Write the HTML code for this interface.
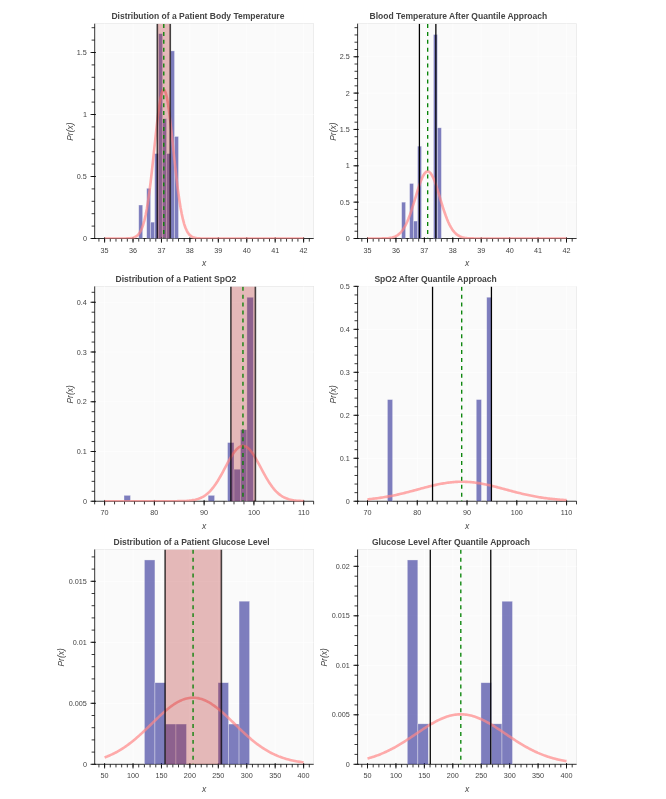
<!DOCTYPE html>
<html lang="en"><head><meta charset="utf-8"><title>Patient vitals distributions</title>
<style>html,body{margin:0;padding:0;background:#fff}body{width:666px;height:799px;overflow:hidden;font-family:"Liberation Sans",Arial,sans-serif}svg{display:block}</style>
</head><body>
<svg width="666" height="799" viewBox="0 0 666 799" font-family="'Liberation Sans', Arial, Helvetica, sans-serif">
<rect width="666" height="799" fill="#fff"/>
<clipPath id="c0"><rect x="94.7" y="23.7" width="219" height="214.95"/></clipPath>
<rect x="94.7" y="23.7" width="219" height="214.8" fill="#fafafa" stroke="#e5e5e5" stroke-width="0.66"/>
<path d="M104.6 23.7V238.5M133.03 23.7V238.5M161.46 23.7V238.5M189.89 23.7V238.5M218.32 23.7V238.5M246.75 23.7V238.5M275.18 23.7V238.5M303.61 23.7V238.5M94.7 176.5H313.7M94.7 114.5H313.7M94.7 52.5H313.7" stroke="#fff" stroke-width="0.66" fill="none"/>
<path d="M94.7 23.7V238.5M94.7 238.5H313.7M104.6 237.2V242.7M133.03 237.2V242.7M161.46 237.2V242.7M189.89 237.2V242.7M218.32 237.2V242.7M246.75 237.2V242.7M275.18 237.2V242.7M303.61 237.2V242.7M98.91 238.5V241.6M104.6 238.5V241.6M110.29 238.5V241.6M115.97 238.5V241.6M121.66 238.5V241.6M127.34 238.5V241.6M133.03 238.5V241.6M138.72 238.5V241.6M144.4 238.5V241.6M150.09 238.5V241.6M155.77 238.5V241.6M161.46 238.5V241.6M167.15 238.5V241.6M172.83 238.5V241.6M178.52 238.5V241.6M184.2 238.5V241.6M189.89 238.5V241.6M195.58 238.5V241.6M201.26 238.5V241.6M206.95 238.5V241.6M212.63 238.5V241.6M218.32 238.5V241.6M224.01 238.5V241.6M229.69 238.5V241.6M235.38 238.5V241.6M241.06 238.5V241.6M246.75 238.5V241.6M252.44 238.5V241.6M258.12 238.5V241.6M263.81 238.5V241.6M269.49 238.5V241.6M275.18 238.5V241.6M280.87 238.5V241.6M286.55 238.5V241.6M292.24 238.5V241.6M297.92 238.5V241.6M303.61 238.5V241.6M309.3 238.5V241.6M96 238.5H90.5M96 176.5H90.5M96 114.5H90.5M96 52.5H90.5M94.7 238.5H91.6M94.7 226.1H91.6M94.7 213.7H91.6M94.7 201.3H91.6M94.7 188.9H91.6M94.7 176.5H91.6M94.7 164.1H91.6M94.7 151.7H91.6M94.7 139.3H91.6M94.7 126.9H91.6M94.7 114.5H91.6M94.7 102.1H91.6M94.7 89.7H91.6M94.7 77.3H91.6M94.7 64.9H91.6M94.7 52.5H91.6M94.7 40.1H91.6M94.7 27.7H91.6" stroke="#000" stroke-width="0.78" fill="none"/>
<g clip-path="url(#c0)">
<rect x="138.72" y="205.02" width="3.98" height="33.48" fill="#000080" fill-opacity="0.5" stroke="#fff" stroke-opacity="0.5" stroke-width="0.66"/>
<rect x="146.68" y="188.28" width="3.98" height="50.22" fill="#000080" fill-opacity="0.5" stroke="#fff" stroke-opacity="0.5" stroke-width="0.66"/>
<rect x="150.66" y="222.13" width="3.98" height="16.37" fill="#000080" fill-opacity="0.5" stroke="#fff" stroke-opacity="0.5" stroke-width="0.66"/>
<rect x="154.64" y="153.56" width="3.98" height="84.94" fill="#000080" fill-opacity="0.5" stroke="#fff" stroke-opacity="0.5" stroke-width="0.66"/>
<rect x="158.62" y="33.65" width="3.98" height="204.85" fill="#000080" fill-opacity="0.5" stroke="#fff" stroke-opacity="0.5" stroke-width="0.66"/>
<rect x="162.6" y="118.72" width="3.98" height="119.78" fill="#000080" fill-opacity="0.5" stroke="#fff" stroke-opacity="0.5" stroke-width="0.66"/>
<rect x="166.58" y="153.56" width="3.98" height="84.94" fill="#000080" fill-opacity="0.5" stroke="#fff" stroke-opacity="0.5" stroke-width="0.66"/>
<rect x="170.56" y="50.89" width="3.98" height="187.61" fill="#000080" fill-opacity="0.5" stroke="#fff" stroke-opacity="0.5" stroke-width="0.66"/>
<rect x="174.54" y="136.45" width="3.98" height="102.05" fill="#000080" fill-opacity="0.5" stroke="#fff" stroke-opacity="0.5" stroke-width="0.66"/>
<polyline points="104.6,238.5 105.84,238.5 107.09,238.5 108.33,238.5 109.58,238.5 110.82,238.5 112.06,238.5 113.31,238.5 114.55,238.5 115.79,238.5 117.04,238.5 118.28,238.5 119.53,238.5 120.77,238.5 122.01,238.49 123.26,238.48 124.5,238.47 125.74,238.45 126.99,238.42 128.23,238.37 129.48,238.3 130.72,238.17 131.96,237.99 133.21,237.71 134.45,237.3 135.7,236.7 136.94,235.87 138.18,234.71 139.43,233.13 140.67,231.03 141.91,228.28 143.16,224.76 144.4,220.35 145.65,214.93 146.89,208.41 148.13,200.76 149.38,191.98 150.62,182.13 151.86,171.37 153.11,159.94 154.35,148.13 155.6,136.33 156.84,124.97 158.08,114.51 159.33,105.42 160.57,98.11 161.82,92.94 163.06,90.17 164.3,89.94 165.55,92.27 166.79,97.03 168.03,103.98 169.28,112.79 170.52,123.04 171.77,134.27 173.01,146.02 174.25,157.86 175.5,169.39 176.74,180.29 177.98,190.31 179.23,199.29 180.47,207.14 181.72,213.85 182.96,219.46 184.2,224.05 185.45,227.71 186.69,230.59 187.94,232.8 189.18,234.46 190.42,235.69 191.67,236.58 192.91,237.21 194.15,237.64 195.4,237.94 196.64,238.15 197.89,238.28 199.13,238.36 200.37,238.42 201.62,238.45 202.86,238.47 204.11,238.48 205.35,238.49 206.59,238.49 207.84,238.5 209.08,238.5 210.32,238.5 211.57,238.5 212.81,238.5 214.06,238.5 215.3,238.5 216.54,238.5 217.79,238.5 219.03,238.5 220.27,238.5 221.52,238.5 222.76,238.5 224.01,238.5 225.25,238.5 226.49,238.5 227.74,238.5 228.98,238.5 230.23,238.5 231.47,238.5 232.71,238.5 233.96,238.5 235.2,238.5 236.44,238.5 237.69,238.5 238.93,238.5 240.18,238.5 241.42,238.5 242.66,238.5 243.91,238.5 245.15,238.5 246.39,238.5 247.64,238.5 248.88,238.5 250.13,238.5 251.37,238.5 252.61,238.5 253.86,238.5 255.1,238.5 256.35,238.5 257.59,238.5 258.83,238.5 260.08,238.5 261.32,238.5 262.56,238.5 263.81,238.5 265.05,238.5 266.3,238.5 267.54,238.5 268.78,238.5 270.03,238.5 271.27,238.5 272.51,238.5 273.76,238.5 275,238.5 276.25,238.5 277.49,238.5 278.73,238.5 279.98,238.5 281.22,238.5 282.47,238.5 283.71,238.5 284.95,238.5 286.2,238.5 287.44,238.5 288.68,238.5 289.93,238.5 291.17,238.5 292.42,238.5 293.66,238.5 294.9,238.5 296.15,238.5 297.39,238.5 298.63,238.5 299.88,238.5 301.12,238.5 302.37,238.5 303.61,238.5" fill="none" stroke="#ff8888" stroke-opacity="0.7" stroke-width="2.62" stroke-linejoin="round"/>
<rect x="157.31" y="23.7" width="12.96" height="214.8" fill="#b22222" fill-opacity="0.3"/>
<path d="M157.31 23.7V238.5M170.27 23.7V238.5" stroke="#000" stroke-opacity="0.72" stroke-width="1.6" fill="none"/>
<path d="M163.79 23.7V238.5" stroke="#008000" stroke-width="1.31" stroke-dasharray="3.96 3.96" stroke-dashoffset="-0.3" fill="none"/>
</g>
<g font-size="7.22" fill="#444"><text x="104.6" y="252.6" text-anchor="middle">35</text><text x="133.03" y="252.6" text-anchor="middle">36</text><text x="161.46" y="252.6" text-anchor="middle">37</text><text x="189.89" y="252.6" text-anchor="middle">38</text><text x="218.32" y="252.6" text-anchor="middle">39</text><text x="246.75" y="252.6" text-anchor="middle">40</text><text x="275.18" y="252.6" text-anchor="middle">41</text><text x="303.61" y="252.6" text-anchor="middle">42</text><text x="86.9" y="241.1" text-anchor="end">0</text><text x="86.9" y="179.1" text-anchor="end">0.5</text><text x="86.9" y="117.1" text-anchor="end">1</text><text x="86.9" y="55.1" text-anchor="end">1.5</text></g>
<text x="204.2" y="266.1" text-anchor="middle" font-size="8.53" font-style="italic" fill="#444">x</text>
<text transform="translate(72.67 131.6) rotate(-90)" text-anchor="middle" font-size="8.53" font-style="italic" fill="#444">Pr(x)</text>
<text x="111.4" y="19.1" font-size="8.53" font-weight="bold" fill="#444">Distribution of a Patient Body Temperature</text>
<clipPath id="c1"><rect x="357.6" y="23.7" width="219" height="214.95"/></clipPath>
<rect x="357.6" y="23.7" width="219" height="214.8" fill="#fafafa" stroke="#e5e5e5" stroke-width="0.66"/>
<path d="M367.5 23.7V238.5M395.93 23.7V238.5M424.36 23.7V238.5M452.79 23.7V238.5M481.22 23.7V238.5M509.65 23.7V238.5M538.08 23.7V238.5M566.51 23.7V238.5M357.6 202.15H576.6M357.6 165.8H576.6M357.6 129.45H576.6M357.6 93.1H576.6M357.6 56.75H576.6" stroke="#fff" stroke-width="0.66" fill="none"/>
<path d="M357.6 23.7V238.5M357.6 238.5H576.6M367.5 237.2V242.7M395.93 237.2V242.7M424.36 237.2V242.7M452.79 237.2V242.7M481.22 237.2V242.7M509.65 237.2V242.7M538.08 237.2V242.7M566.51 237.2V242.7M361.81 238.5V241.6M367.5 238.5V241.6M373.19 238.5V241.6M378.87 238.5V241.6M384.56 238.5V241.6M390.24 238.5V241.6M395.93 238.5V241.6M401.62 238.5V241.6M407.3 238.5V241.6M412.99 238.5V241.6M418.67 238.5V241.6M424.36 238.5V241.6M430.05 238.5V241.6M435.73 238.5V241.6M441.42 238.5V241.6M447.1 238.5V241.6M452.79 238.5V241.6M458.48 238.5V241.6M464.16 238.5V241.6M469.85 238.5V241.6M475.53 238.5V241.6M481.22 238.5V241.6M486.91 238.5V241.6M492.59 238.5V241.6M498.28 238.5V241.6M503.96 238.5V241.6M509.65 238.5V241.6M515.34 238.5V241.6M521.02 238.5V241.6M526.71 238.5V241.6M532.39 238.5V241.6M538.08 238.5V241.6M543.77 238.5V241.6M549.45 238.5V241.6M555.14 238.5V241.6M560.82 238.5V241.6M566.51 238.5V241.6M572.2 238.5V241.6M358.9 238.5H353.4M358.9 202.15H353.4M358.9 165.8H353.4M358.9 129.45H353.4M358.9 93.1H353.4M358.9 56.75H353.4M357.6 238.5H354.5M357.6 231.23H354.5M357.6 223.96H354.5M357.6 216.69H354.5M357.6 209.42H354.5M357.6 202.15H354.5M357.6 194.88H354.5M357.6 187.61H354.5M357.6 180.34H354.5M357.6 173.07H354.5M357.6 165.8H354.5M357.6 158.53H354.5M357.6 151.26H354.5M357.6 143.99H354.5M357.6 136.72H354.5M357.6 129.45H354.5M357.6 122.18H354.5M357.6 114.91H354.5M357.6 107.64H354.5M357.6 100.37H354.5M357.6 93.1H354.5M357.6 85.83H354.5M357.6 78.56H354.5M357.6 71.29H354.5M357.6 64.02H354.5M357.6 56.75H354.5M357.6 49.48H354.5M357.6 42.21H354.5M357.6 34.94H354.5M357.6 27.67H354.5" stroke="#000" stroke-width="0.78" fill="none"/>
<g clip-path="url(#c1)">
<rect x="401.62" y="202.15" width="3.98" height="36.35" fill="#000080" fill-opacity="0.5" stroke="#fff" stroke-opacity="0.5" stroke-width="0.66"/>
<rect x="409.58" y="183.47" width="3.98" height="55.03" fill="#000080" fill-opacity="0.5" stroke="#fff" stroke-opacity="0.5" stroke-width="0.66"/>
<rect x="413.56" y="221.05" width="3.98" height="17.45" fill="#000080" fill-opacity="0.5" stroke="#fff" stroke-opacity="0.5" stroke-width="0.66"/>
<rect x="417.54" y="146.17" width="3.98" height="92.33" fill="#000080" fill-opacity="0.5" stroke="#fff" stroke-opacity="0.5" stroke-width="0.66"/>
<rect x="433.46" y="34.5" width="3.98" height="204" fill="#000080" fill-opacity="0.5" stroke="#fff" stroke-opacity="0.5" stroke-width="0.66"/>
<rect x="437.44" y="127.78" width="3.98" height="110.72" fill="#000080" fill-opacity="0.5" stroke="#fff" stroke-opacity="0.5" stroke-width="0.66"/>
<polyline points="367.5,238.5 368.74,238.5 369.99,238.5 371.23,238.5 372.48,238.5 373.72,238.5 374.96,238.49 376.21,238.49 377.45,238.48 378.69,238.48 379.94,238.46 381.18,238.45 382.43,238.42 383.67,238.39 384.91,238.34 386.16,238.28 387.4,238.19 388.64,238.07 389.89,237.91 391.13,237.7 392.38,237.42 393.62,237.07 394.86,236.61 396.11,236.04 397.35,235.32 398.6,234.44 399.84,233.36 401.08,232.07 402.33,230.54 403.57,228.73 404.81,226.65 406.06,224.26 407.3,221.56 408.55,218.57 409.79,215.28 411.03,211.72 412.28,207.94 413.52,203.98 414.76,199.9 416.01,195.78 417.25,191.7 418.5,187.76 419.74,184.04 420.98,180.65 422.23,177.68 423.47,175.2 424.72,173.3 425.96,172.02 427.2,171.42 428.45,171.49 429.69,172.25 430.93,173.67 432.18,175.71 433.42,178.3 434.67,181.37 435.91,184.84 437.15,188.62 438.4,192.6 439.64,196.7 440.88,200.81 442.13,204.87 443.37,208.8 444.62,212.54 445.86,216.04 447.1,219.26 448.35,222.19 449.59,224.82 450.84,227.14 452.08,229.16 453.32,230.9 454.57,232.38 455.81,233.62 457.05,234.65 458.3,235.49 459.54,236.18 460.79,236.72 462.03,237.15 463.27,237.49 464.52,237.75 465.76,237.95 467,238.1 468.25,238.21 469.49,238.3 470.74,238.36 471.98,238.4 473.22,238.43 474.47,238.45 475.71,238.47 476.96,238.48 478.2,238.49 479.44,238.49 480.69,238.49 481.93,238.5 483.17,238.5 484.42,238.5 485.66,238.5 486.91,238.5 488.15,238.5 489.39,238.5 490.64,238.5 491.88,238.5 493.13,238.5 494.37,238.5 495.61,238.5 496.86,238.5 498.1,238.5 499.34,238.5 500.59,238.5 501.83,238.5 503.08,238.5 504.32,238.5 505.56,238.5 506.81,238.5 508.05,238.5 509.29,238.5 510.54,238.5 511.78,238.5 513.03,238.5 514.27,238.5 515.51,238.5 516.76,238.5 518,238.5 519.25,238.5 520.49,238.5 521.73,238.5 522.98,238.5 524.22,238.5 525.46,238.5 526.71,238.5 527.95,238.5 529.2,238.5 530.44,238.5 531.68,238.5 532.93,238.5 534.17,238.5 535.41,238.5 536.66,238.5 537.9,238.5 539.15,238.5 540.39,238.5 541.63,238.5 542.88,238.5 544.12,238.5 545.37,238.5 546.61,238.5 547.85,238.5 549.1,238.5 550.34,238.5 551.58,238.5 552.83,238.5 554.07,238.5 555.32,238.5 556.56,238.5 557.8,238.5 559.05,238.5 560.29,238.5 561.53,238.5 562.78,238.5 564.02,238.5 565.27,238.5 566.51,238.5" fill="none" stroke="#ff8888" stroke-opacity="0.7" stroke-width="2.62" stroke-linejoin="round"/>
<path d="M419.41 23.7V238.5M435.87 23.7V238.5" stroke="#000" stroke-width="1.28" fill="none"/>
<path d="M427.69 23.7V238.5" stroke="#008000" stroke-width="1.31" stroke-dasharray="3.96 3.96" stroke-dashoffset="-0.3" fill="none"/>
</g>
<g font-size="7.22" fill="#444"><text x="367.5" y="252.6" text-anchor="middle">35</text><text x="395.93" y="252.6" text-anchor="middle">36</text><text x="424.36" y="252.6" text-anchor="middle">37</text><text x="452.79" y="252.6" text-anchor="middle">38</text><text x="481.22" y="252.6" text-anchor="middle">39</text><text x="509.65" y="252.6" text-anchor="middle">40</text><text x="538.08" y="252.6" text-anchor="middle">41</text><text x="566.51" y="252.6" text-anchor="middle">42</text><text x="349.8" y="241.1" text-anchor="end">0</text><text x="349.8" y="204.75" text-anchor="end">0.5</text><text x="349.8" y="168.4" text-anchor="end">1</text><text x="349.8" y="132.05" text-anchor="end">1.5</text><text x="349.8" y="95.7" text-anchor="end">2</text><text x="349.8" y="59.35" text-anchor="end">2.5</text></g>
<text x="467.1" y="266.1" text-anchor="middle" font-size="8.53" font-style="italic" fill="#444">x</text>
<text transform="translate(335.57 131.6) rotate(-90)" text-anchor="middle" font-size="8.53" font-style="italic" fill="#444">Pr(x)</text>
<text x="369.6" y="19.1" font-size="8.53" font-weight="bold" fill="#444">Blood Temperature After Quantile Approach</text>
<clipPath id="c2"><rect x="94.7" y="286.45" width="219" height="214.95"/></clipPath>
<rect x="94.7" y="286.45" width="219" height="214.8" fill="#fafafa" stroke="#e5e5e5" stroke-width="0.66"/>
<path d="M104.6 286.45V501.25M154.37 286.45V501.25M204.14 286.45V501.25M253.91 286.45V501.25M303.68 286.45V501.25M94.7 451.5H313.7M94.7 401.75H313.7M94.7 352H313.7M94.7 302.25H313.7" stroke="#fff" stroke-width="0.66" fill="none"/>
<path d="M94.7 286.45V501.25M94.7 501.25H313.7M104.6 499.95V505.45M154.37 499.95V505.45M204.14 499.95V505.45M253.91 499.95V505.45M303.68 499.95V505.45M94.65 501.25V504.35M104.6 501.25V504.35M114.55 501.25V504.35M124.51 501.25V504.35M134.46 501.25V504.35M144.42 501.25V504.35M154.37 501.25V504.35M164.32 501.25V504.35M174.28 501.25V504.35M184.23 501.25V504.35M194.19 501.25V504.35M204.14 501.25V504.35M214.09 501.25V504.35M224.05 501.25V504.35M234 501.25V504.35M243.96 501.25V504.35M253.91 501.25V504.35M263.86 501.25V504.35M273.82 501.25V504.35M283.77 501.25V504.35M293.73 501.25V504.35M303.68 501.25V504.35M313.63 501.25V504.35M96 501.25H90.5M96 451.5H90.5M96 401.75H90.5M96 352H90.5M96 302.25H90.5M94.7 501.25H91.6M94.7 491.3H91.6M94.7 481.35H91.6M94.7 471.4H91.6M94.7 461.45H91.6M94.7 451.5H91.6M94.7 441.55H91.6M94.7 431.6H91.6M94.7 421.65H91.6M94.7 411.7H91.6M94.7 401.75H91.6M94.7 391.8H91.6M94.7 381.85H91.6M94.7 371.9H91.6M94.7 361.95H91.6M94.7 352H91.6M94.7 342.05H91.6M94.7 332.1H91.6M94.7 322.15H91.6M94.7 312.2H91.6M94.7 302.25H91.6M94.7 292.3H91.6" stroke="#000" stroke-width="0.78" fill="none"/>
<g clip-path="url(#c2)">
<rect x="124.01" y="495.33" width="6.47" height="5.92" fill="#000080" fill-opacity="0.5" stroke="#fff" stroke-opacity="0.5" stroke-width="0.66"/>
<rect x="208.12" y="495.33" width="6.47" height="5.92" fill="#000080" fill-opacity="0.5" stroke="#fff" stroke-opacity="0.5" stroke-width="0.66"/>
<rect x="227.53" y="442.55" width="6.47" height="58.7" fill="#000080" fill-opacity="0.5" stroke="#fff" stroke-opacity="0.5" stroke-width="0.66"/>
<rect x="234" y="469.21" width="6.47" height="32.04" fill="#000080" fill-opacity="0.5" stroke="#fff" stroke-opacity="0.5" stroke-width="0.66"/>
<rect x="240.47" y="429.61" width="6.47" height="71.64" fill="#000080" fill-opacity="0.5" stroke="#fff" stroke-opacity="0.5" stroke-width="0.66"/>
<rect x="246.94" y="297.27" width="6.47" height="203.98" fill="#000080" fill-opacity="0.5" stroke="#fff" stroke-opacity="0.5" stroke-width="0.66"/>
<polyline points="104.6,501.25 105.84,501.25 107.09,501.25 108.33,501.25 109.58,501.25 110.82,501.25 112.07,501.25 113.31,501.25 114.55,501.25 115.8,501.25 117.04,501.25 118.29,501.25 119.53,501.25 120.78,501.25 122.02,501.25 123.26,501.25 124.51,501.25 125.75,501.25 127,501.25 128.24,501.25 129.49,501.25 130.73,501.25 131.97,501.25 133.22,501.25 134.46,501.25 135.71,501.25 136.95,501.25 138.19,501.25 139.44,501.25 140.68,501.25 141.93,501.25 143.17,501.25 144.42,501.25 145.66,501.25 146.9,501.25 148.15,501.25 149.39,501.25 150.64,501.25 151.88,501.25 153.13,501.25 154.37,501.25 155.61,501.25 156.86,501.25 158.1,501.25 159.35,501.25 160.59,501.25 161.84,501.25 163.08,501.25 164.32,501.25 165.57,501.25 166.81,501.24 168.06,501.24 169.3,501.24 170.55,501.24 171.79,501.23 173.03,501.22 174.28,501.22 175.52,501.21 176.77,501.19 178.01,501.18 179.25,501.16 180.5,501.13 181.74,501.1 182.99,501.06 184.23,501 185.48,500.94 186.72,500.87 187.96,500.77 189.21,500.66 190.45,500.52 191.7,500.36 192.94,500.16 194.19,499.93 195.43,499.66 196.67,499.34 197.92,498.97 199.16,498.53 200.41,498.03 201.65,497.46 202.9,496.81 204.14,496.06 205.38,495.23 206.63,494.29 207.87,493.25 209.12,492.1 210.36,490.83 211.61,489.44 212.85,487.93 214.09,486.3 215.34,484.55 216.58,482.69 217.83,480.73 219.07,478.66 220.32,476.51 221.56,474.29 222.8,472.01 224.05,469.68 225.29,467.34 226.54,465.01 227.78,462.7 229.03,460.44 230.27,458.26 231.51,456.18 232.76,454.23 234,452.43 235.25,450.82 236.49,449.4 237.73,448.2 238.98,447.23 240.22,446.52 241.47,446.07 242.71,445.88 243.96,445.96 245.2,446.31 246.44,446.92 247.69,447.78 248.93,448.89 250.18,450.22 251.42,451.76 252.67,453.49 253.91,455.38 255.15,457.41 256.4,459.55 257.64,461.78 258.89,464.08 260.13,466.41 261.38,468.75 262.62,471.08 263.86,473.38 265.11,475.63 266.35,477.81 267.6,479.91 268.84,481.92 270.09,483.82 271.33,485.62 272.57,487.29 273.82,488.85 275.06,490.28 276.31,491.6 277.55,492.8 278.8,493.89 280.04,494.87 281.28,495.74 282.53,496.52 283.77,497.21 285.02,497.81 286.26,498.34 287.5,498.8 288.75,499.2 289.99,499.54 291.24,499.83 292.48,500.08 293.73,500.29 294.97,500.46 296.21,500.61 297.46,500.73 298.7,500.83 299.95,500.91 301.19,500.98 302.44,501.04 303.68,501.08" fill="none" stroke="#ff8888" stroke-opacity="0.7" stroke-width="2.62" stroke-linejoin="round"/>
<rect x="230.87" y="286.45" width="24.54" height="214.8" fill="#b22222" fill-opacity="0.3"/>
<path d="M230.87 286.45V501.25M255.4 286.45V501.25" stroke="#000" stroke-opacity="0.72" stroke-width="1.6" fill="none"/>
<path d="M242.96 286.45V501.25" stroke="#008000" stroke-width="1.31" stroke-dasharray="3.96 3.96" stroke-dashoffset="-0.3" fill="none"/>
</g>
<g font-size="7.22" fill="#444"><text x="104.6" y="515.35" text-anchor="middle">70</text><text x="154.37" y="515.35" text-anchor="middle">80</text><text x="204.14" y="515.35" text-anchor="middle">90</text><text x="253.91" y="515.35" text-anchor="middle">100</text><text x="303.68" y="515.35" text-anchor="middle">110</text><text x="86.9" y="503.85" text-anchor="end">0</text><text x="86.9" y="454.1" text-anchor="end">0.1</text><text x="86.9" y="404.35" text-anchor="end">0.2</text><text x="86.9" y="354.6" text-anchor="end">0.3</text><text x="86.9" y="304.85" text-anchor="end">0.4</text></g>
<text x="204.2" y="528.85" text-anchor="middle" font-size="8.53" font-style="italic" fill="#444">x</text>
<text transform="translate(72.67 394.35) rotate(-90)" text-anchor="middle" font-size="8.53" font-style="italic" fill="#444">Pr(x)</text>
<text x="115.6" y="281.85" font-size="8.53" font-weight="bold" fill="#444">Distribution of a Patient SpO2</text>
<clipPath id="c3"><rect x="357.6" y="286.45" width="219" height="214.95"/></clipPath>
<rect x="357.6" y="286.45" width="219" height="214.8" fill="#fafafa" stroke="#e5e5e5" stroke-width="0.66"/>
<path d="M367.5 286.45V501.25M417.27 286.45V501.25M467.04 286.45V501.25M516.81 286.45V501.25M566.58 286.45V501.25M357.6 458.27H576.6M357.6 415.29H576.6M357.6 372.31H576.6M357.6 329.33H576.6M357.6 286.35H576.6" stroke="#fff" stroke-width="0.66" fill="none"/>
<path d="M357.6 286.45V501.25M357.6 501.25H576.6M367.5 499.95V505.45M417.27 499.95V505.45M467.04 499.95V505.45M516.81 499.95V505.45M566.58 499.95V505.45M357.55 501.25V504.35M367.5 501.25V504.35M377.45 501.25V504.35M387.41 501.25V504.35M397.36 501.25V504.35M407.32 501.25V504.35M417.27 501.25V504.35M427.22 501.25V504.35M437.18 501.25V504.35M447.13 501.25V504.35M457.09 501.25V504.35M467.04 501.25V504.35M476.99 501.25V504.35M486.95 501.25V504.35M496.9 501.25V504.35M506.86 501.25V504.35M516.81 501.25V504.35M526.76 501.25V504.35M536.72 501.25V504.35M546.67 501.25V504.35M556.63 501.25V504.35M566.58 501.25V504.35M576.53 501.25V504.35M358.9 501.25H353.4M358.9 458.27H353.4M358.9 415.29H353.4M358.9 372.31H353.4M358.9 329.33H353.4M358.9 286.35H353.4M357.6 501.25H354.5M357.6 492.65H354.5M357.6 484.06H354.5M357.6 475.46H354.5M357.6 466.87H354.5M357.6 458.27H354.5M357.6 449.67H354.5M357.6 441.08H354.5M357.6 432.48H354.5M357.6 423.89H354.5M357.6 415.29H354.5M357.6 406.69H354.5M357.6 398.1H354.5M357.6 389.5H354.5M357.6 380.91H354.5M357.6 372.31H354.5M357.6 363.71H354.5M357.6 355.12H354.5M357.6 346.52H354.5M357.6 337.93H354.5M357.6 329.33H354.5M357.6 320.73H354.5M357.6 312.14H354.5M357.6 303.54H354.5M357.6 294.95H354.5M357.6 286.35H354.5" stroke="#000" stroke-width="0.78" fill="none"/>
<g clip-path="url(#c3)">
<rect x="387.41" y="399.56" width="5.23" height="101.69" fill="#000080" fill-opacity="0.5" stroke="#fff" stroke-opacity="0.5" stroke-width="0.66"/>
<rect x="476.25" y="399.56" width="5.23" height="101.69" fill="#000080" fill-opacity="0.5" stroke="#fff" stroke-opacity="0.5" stroke-width="0.66"/>
<rect x="486.7" y="297.22" width="5.23" height="204.03" fill="#000080" fill-opacity="0.5" stroke="#fff" stroke-opacity="0.5" stroke-width="0.66"/>
<polyline points="367.5,499.33 368.74,499.21 369.99,499.08 371.23,498.95 372.48,498.81 373.72,498.67 374.97,498.52 376.21,498.36 377.45,498.2 378.7,498.03 379.94,497.85 381.19,497.67 382.43,497.47 383.68,497.28 384.92,497.07 386.16,496.86 387.41,496.64 388.65,496.41 389.9,496.18 391.14,495.94 392.38,495.69 393.63,495.44 394.87,495.18 396.12,494.91 397.36,494.64 398.61,494.36 399.85,494.07 401.09,493.78 402.34,493.48 403.58,493.18 404.83,492.87 406.07,492.56 407.32,492.25 408.56,491.93 409.8,491.6 411.05,491.27 412.29,490.94 413.54,490.61 414.78,490.28 416.03,489.94 417.27,489.61 418.51,489.27 419.76,488.93 421,488.6 422.25,488.26 423.49,487.93 424.74,487.6 425.98,487.28 427.22,486.95 428.47,486.64 429.71,486.32 430.96,486.01 432.2,485.71 433.45,485.42 434.69,485.13 435.93,484.85 437.18,484.58 438.42,484.32 439.67,484.07 440.91,483.83 442.15,483.6 443.4,483.38 444.64,483.17 445.89,482.98 447.13,482.8 448.38,482.63 449.62,482.47 450.86,482.33 452.11,482.21 453.35,482.1 454.6,482 455.84,481.92 457.09,481.85 458.33,481.8 459.57,481.77 460.82,481.75 462.06,481.74 463.31,481.76 464.55,481.78 465.8,481.83 467.04,481.89 468.28,481.96 469.53,482.05 470.77,482.16 472.02,482.28 473.26,482.41 474.51,482.56 475.75,482.72 476.99,482.9 478.24,483.09 479.48,483.29 480.73,483.5 481.97,483.73 483.22,483.96 484.46,484.21 485.7,484.47 486.95,484.73 488.19,485.01 489.44,485.29 490.68,485.58 491.93,485.88 493.17,486.19 494.41,486.5 495.66,486.81 496.9,487.13 498.15,487.46 499.39,487.79 500.63,488.12 501.88,488.45 503.12,488.79 504.37,489.12 505.61,489.46 506.86,489.8 508.1,490.13 509.34,490.47 510.59,490.8 511.83,491.13 513.08,491.46 514.32,491.78 515.57,492.11 516.81,492.42 518.05,492.74 519.3,493.05 520.54,493.35 521.79,493.65 523.03,493.95 524.28,494.23 525.52,494.52 526.76,494.79 528.01,495.06 529.25,495.33 530.5,495.58 531.74,495.83 532.99,496.08 534.23,496.31 535.47,496.54 536.72,496.76 537.96,496.98 539.21,497.19 540.45,497.39 541.7,497.58 542.94,497.77 544.18,497.95 545.43,498.12 546.67,498.29 547.92,498.45 549.16,498.6 550.4,498.75 551.65,498.89 552.89,499.03 554.14,499.16 555.38,499.28 556.63,499.4 557.87,499.51 559.11,499.61 560.36,499.71 561.6,499.81 562.85,499.9 564.09,499.99 565.34,500.07 566.58,500.15" fill="none" stroke="#ff8888" stroke-opacity="0.7" stroke-width="2.62" stroke-linejoin="round"/>
<path d="M432.55 286.45V501.25M491.43 286.45V501.25" stroke="#000" stroke-width="1.28" fill="none"/>
<path d="M461.71 286.45V501.25" stroke="#008000" stroke-width="1.31" stroke-dasharray="3.96 3.96" stroke-dashoffset="-0.3" fill="none"/>
</g>
<g font-size="7.22" fill="#444"><text x="367.5" y="515.35" text-anchor="middle">70</text><text x="417.27" y="515.35" text-anchor="middle">80</text><text x="467.04" y="515.35" text-anchor="middle">90</text><text x="516.81" y="515.35" text-anchor="middle">100</text><text x="566.58" y="515.35" text-anchor="middle">110</text><text x="349.8" y="503.85" text-anchor="end">0</text><text x="349.8" y="460.87" text-anchor="end">0.1</text><text x="349.8" y="417.89" text-anchor="end">0.2</text><text x="349.8" y="374.91" text-anchor="end">0.3</text><text x="349.8" y="331.93" text-anchor="end">0.4</text><text x="349.8" y="288.95" text-anchor="end">0.5</text></g>
<text x="467.1" y="528.85" text-anchor="middle" font-size="8.53" font-style="italic" fill="#444">x</text>
<text transform="translate(335.57 394.35) rotate(-90)" text-anchor="middle" font-size="8.53" font-style="italic" fill="#444">Pr(x)</text>
<text x="374.4" y="281.85" font-size="8.53" font-weight="bold" fill="#444">SpO2 After Quantile Approach</text>
<clipPath id="c4"><rect x="94.7" y="549.5" width="219" height="214.95"/></clipPath>
<rect x="94.7" y="549.5" width="219" height="214.8" fill="#fafafa" stroke="#e5e5e5" stroke-width="0.66"/>
<path d="M104.6 549.5V764.3M133.03 549.5V764.3M161.46 549.5V764.3M189.89 549.5V764.3M218.32 549.5V764.3M246.75 549.5V764.3M275.18 549.5V764.3M303.61 549.5V764.3M94.7 703.3H313.7M94.7 642.3H313.7M94.7 581.3H313.7" stroke="#fff" stroke-width="0.66" fill="none"/>
<path d="M94.7 549.5V764.3M94.7 764.3H313.7M104.6 763V768.5M133.03 763V768.5M161.46 763V768.5M189.89 763V768.5M218.32 763V768.5M246.75 763V768.5M275.18 763V768.5M303.61 763V768.5M98.91 764.3V767.4M104.6 764.3V767.4M110.29 764.3V767.4M115.97 764.3V767.4M121.66 764.3V767.4M127.34 764.3V767.4M133.03 764.3V767.4M138.72 764.3V767.4M144.4 764.3V767.4M150.09 764.3V767.4M155.77 764.3V767.4M161.46 764.3V767.4M167.15 764.3V767.4M172.83 764.3V767.4M178.52 764.3V767.4M184.2 764.3V767.4M189.89 764.3V767.4M195.58 764.3V767.4M201.26 764.3V767.4M206.95 764.3V767.4M212.63 764.3V767.4M218.32 764.3V767.4M224.01 764.3V767.4M229.69 764.3V767.4M235.38 764.3V767.4M241.06 764.3V767.4M246.75 764.3V767.4M252.44 764.3V767.4M258.12 764.3V767.4M263.81 764.3V767.4M269.49 764.3V767.4M275.18 764.3V767.4M280.87 764.3V767.4M286.55 764.3V767.4M292.24 764.3V767.4M297.92 764.3V767.4M303.61 764.3V767.4M309.3 764.3V767.4M96 764.3H90.5M96 703.3H90.5M96 642.3H90.5M96 581.3H90.5M94.7 764.3H91.6M94.7 752.1H91.6M94.7 739.9H91.6M94.7 727.7H91.6M94.7 715.5H91.6M94.7 703.3H91.6M94.7 691.1H91.6M94.7 678.9H91.6M94.7 666.7H91.6M94.7 654.5H91.6M94.7 642.3H91.6M94.7 630.1H91.6M94.7 617.9H91.6M94.7 605.7H91.6M94.7 593.5H91.6M94.7 581.3H91.6M94.7 569.1H91.6M94.7 556.9H91.6" stroke="#000" stroke-width="0.78" fill="none"/>
<g clip-path="url(#c4)">
<rect x="144.4" y="559.95" width="10.52" height="204.35" fill="#000080" fill-opacity="0.5" stroke="#fff" stroke-opacity="0.5" stroke-width="0.66"/>
<rect x="154.92" y="682.68" width="10.52" height="81.62" fill="#000080" fill-opacity="0.5" stroke="#fff" stroke-opacity="0.5" stroke-width="0.66"/>
<rect x="165.44" y="724.04" width="10.52" height="40.26" fill="#000080" fill-opacity="0.5" stroke="#fff" stroke-opacity="0.5" stroke-width="0.66"/>
<rect x="175.96" y="724.04" width="10.52" height="40.26" fill="#000080" fill-opacity="0.5" stroke="#fff" stroke-opacity="0.5" stroke-width="0.66"/>
<rect x="218.04" y="682.68" width="10.52" height="81.62" fill="#000080" fill-opacity="0.5" stroke="#fff" stroke-opacity="0.5" stroke-width="0.66"/>
<rect x="228.55" y="724.04" width="10.52" height="40.26" fill="#000080" fill-opacity="0.5" stroke="#fff" stroke-opacity="0.5" stroke-width="0.66"/>
<rect x="239.07" y="601.19" width="10.52" height="163.11" fill="#000080" fill-opacity="0.5" stroke="#fff" stroke-opacity="0.5" stroke-width="0.66"/>
<polyline points="104.6,757.4 105.84,756.95 107.09,756.48 108.33,755.98 109.58,755.46 110.82,754.92 112.06,754.35 113.31,753.75 114.55,753.13 115.79,752.49 117.04,751.82 118.28,751.12 119.53,750.4 120.77,749.65 122.01,748.87 123.26,748.07 124.5,747.24 125.74,746.38 126.99,745.5 128.23,744.59 129.48,743.66 130.72,742.7 131.96,741.72 133.21,740.71 134.45,739.68 135.7,738.63 136.94,737.56 138.18,736.47 139.43,735.36 140.67,734.23 141.91,733.09 143.16,731.93 144.4,730.76 145.65,729.58 146.89,728.39 148.13,727.19 149.38,725.99 150.62,724.78 151.86,723.57 153.11,722.36 154.35,721.16 155.6,719.96 156.84,718.76 158.08,717.58 159.33,716.41 160.57,715.25 161.82,714.11 163.06,712.99 164.3,711.89 165.55,710.82 166.79,709.77 168.03,708.75 169.28,707.77 170.52,706.82 171.77,705.9 173.01,705.02 174.25,704.19 175.5,703.39 176.74,702.64 177.98,701.94 179.23,701.29 180.47,700.69 181.72,700.13 182.96,699.64 184.2,699.19 185.45,698.8 186.69,698.47 187.94,698.2 189.18,697.98 190.42,697.83 191.67,697.73 192.91,697.69 194.15,697.71 195.4,697.8 196.64,697.94 197.89,698.14 199.13,698.4 200.37,698.71 201.62,699.08 202.86,699.51 204.11,700 205.35,700.54 206.59,701.13 207.84,701.77 209.08,702.46 210.32,703.19 211.57,703.97 212.81,704.8 214.06,705.67 215.3,706.57 216.54,707.51 217.79,708.49 219.03,709.5 220.27,710.54 221.52,711.61 222.76,712.7 224.01,713.81 225.25,714.95 226.49,716.1 227.74,717.27 228.98,718.45 230.23,719.64 231.47,720.84 232.71,722.04 233.96,723.25 235.2,724.46 236.44,725.67 237.69,726.88 238.93,728.08 240.18,729.27 241.42,730.45 242.66,731.63 243.91,732.79 245.15,733.93 246.39,735.07 247.64,736.18 248.88,737.28 250.13,738.35 251.37,739.41 252.61,740.44 253.86,741.46 255.1,742.44 256.35,743.41 257.59,744.35 258.83,745.26 260.08,746.15 261.32,747.02 262.56,747.85 263.81,748.66 265.05,749.45 266.3,750.2 267.54,750.93 268.78,751.64 270.03,752.32 271.27,752.97 272.51,753.59 273.76,754.19 275,754.77 276.25,755.32 277.49,755.84 278.73,756.35 279.98,756.83 281.22,757.28 282.47,757.72 283.71,758.13 284.95,758.52 286.2,758.9 287.44,759.25 288.68,759.58 289.93,759.9 291.17,760.2 292.42,760.48 293.66,760.75 294.9,761 296.15,761.23 297.39,761.45 298.63,761.66 299.88,761.85 301.12,762.04 302.37,762.21 303.61,762.37" fill="none" stroke="#ff8888" stroke-opacity="0.7" stroke-width="2.62" stroke-linejoin="round"/>
<rect x="165.1" y="549.5" width="56.29" height="214.8" fill="#b22222" fill-opacity="0.3"/>
<path d="M165.1 549.5V764.3M221.39 549.5V764.3" stroke="#000" stroke-opacity="0.72" stroke-width="1.6" fill="none"/>
<path d="M193.07 549.5V764.3" stroke="#008000" stroke-width="1.31" stroke-dasharray="3.96 3.96" stroke-dashoffset="-0.3" fill="none"/>
</g>
<g font-size="7.22" fill="#444"><text x="104.6" y="778.4" text-anchor="middle">50</text><text x="133.03" y="778.4" text-anchor="middle">100</text><text x="161.46" y="778.4" text-anchor="middle">150</text><text x="189.89" y="778.4" text-anchor="middle">200</text><text x="218.32" y="778.4" text-anchor="middle">250</text><text x="246.75" y="778.4" text-anchor="middle">300</text><text x="275.18" y="778.4" text-anchor="middle">350</text><text x="303.61" y="778.4" text-anchor="middle">400</text><text x="86.9" y="766.9" text-anchor="end">0</text><text x="86.9" y="705.9" text-anchor="end">0.005</text><text x="86.9" y="644.9" text-anchor="end">0.01</text><text x="86.9" y="583.9" text-anchor="end">0.015</text></g>
<text x="204.2" y="791.9" text-anchor="middle" font-size="8.53" font-style="italic" fill="#444">x</text>
<text transform="translate(64.1 657.4) rotate(-90)" text-anchor="middle" font-size="8.53" font-style="italic" fill="#444">Pr(x)</text>
<text x="113.5" y="544.9" font-size="8.53" font-weight="bold" fill="#444">Distribution of a Patient Glucose Level</text>
<clipPath id="c5"><rect x="357.6" y="549.5" width="219" height="214.95"/></clipPath>
<rect x="357.6" y="549.5" width="219" height="214.8" fill="#fafafa" stroke="#e5e5e5" stroke-width="0.66"/>
<path d="M367.5 549.5V764.3M395.93 549.5V764.3M424.36 549.5V764.3M452.79 549.5V764.3M481.22 549.5V764.3M509.65 549.5V764.3M538.08 549.5V764.3M566.51 549.5V764.3M357.6 714.8H576.6M357.6 665.3H576.6M357.6 615.8H576.6M357.6 566.3H576.6" stroke="#fff" stroke-width="0.66" fill="none"/>
<path d="M357.6 549.5V764.3M357.6 764.3H576.6M367.5 763V768.5M395.93 763V768.5M424.36 763V768.5M452.79 763V768.5M481.22 763V768.5M509.65 763V768.5M538.08 763V768.5M566.51 763V768.5M361.81 764.3V767.4M367.5 764.3V767.4M373.19 764.3V767.4M378.87 764.3V767.4M384.56 764.3V767.4M390.24 764.3V767.4M395.93 764.3V767.4M401.62 764.3V767.4M407.3 764.3V767.4M412.99 764.3V767.4M418.67 764.3V767.4M424.36 764.3V767.4M430.05 764.3V767.4M435.73 764.3V767.4M441.42 764.3V767.4M447.1 764.3V767.4M452.79 764.3V767.4M458.48 764.3V767.4M464.16 764.3V767.4M469.85 764.3V767.4M475.53 764.3V767.4M481.22 764.3V767.4M486.91 764.3V767.4M492.59 764.3V767.4M498.28 764.3V767.4M503.96 764.3V767.4M509.65 764.3V767.4M515.34 764.3V767.4M521.02 764.3V767.4M526.71 764.3V767.4M532.39 764.3V767.4M538.08 764.3V767.4M543.77 764.3V767.4M549.45 764.3V767.4M555.14 764.3V767.4M560.82 764.3V767.4M566.51 764.3V767.4M572.2 764.3V767.4M358.9 764.3H353.4M358.9 714.8H353.4M358.9 665.3H353.4M358.9 615.8H353.4M358.9 566.3H353.4M357.6 764.3H354.5M357.6 754.4H354.5M357.6 744.5H354.5M357.6 734.6H354.5M357.6 724.7H354.5M357.6 714.8H354.5M357.6 704.9H354.5M357.6 695H354.5M357.6 685.1H354.5M357.6 675.2H354.5M357.6 665.3H354.5M357.6 655.4H354.5M357.6 645.5H354.5M357.6 635.6H354.5M357.6 625.7H354.5M357.6 615.8H354.5M357.6 605.9H354.5M357.6 596H354.5M357.6 586.1H354.5M357.6 576.2H354.5M357.6 566.3H354.5M357.6 556.4H354.5" stroke="#000" stroke-width="0.78" fill="none"/>
<g clip-path="url(#c5)">
<rect x="407.3" y="559.96" width="10.52" height="204.34" fill="#000080" fill-opacity="0.5" stroke="#fff" stroke-opacity="0.5" stroke-width="0.66"/>
<rect x="417.82" y="723.81" width="10.52" height="40.49" fill="#000080" fill-opacity="0.5" stroke="#fff" stroke-opacity="0.5" stroke-width="0.66"/>
<rect x="480.94" y="682.72" width="10.52" height="81.58" fill="#000080" fill-opacity="0.5" stroke="#fff" stroke-opacity="0.5" stroke-width="0.66"/>
<rect x="491.45" y="723.81" width="10.52" height="40.49" fill="#000080" fill-opacity="0.5" stroke="#fff" stroke-opacity="0.5" stroke-width="0.66"/>
<rect x="501.97" y="601.25" width="10.52" height="163.05" fill="#000080" fill-opacity="0.5" stroke="#fff" stroke-opacity="0.5" stroke-width="0.66"/>
<polyline points="367.5,758.52 368.74,758.18 369.99,757.82 371.23,757.45 372.48,757.07 373.72,756.67 374.96,756.25 376.21,755.81 377.45,755.36 378.69,754.9 379.94,754.41 381.18,753.91 382.43,753.39 383.67,752.86 384.91,752.3 386.16,751.73 387.4,751.15 388.64,750.54 389.89,749.92 391.13,749.29 392.38,748.63 393.62,747.97 394.86,747.28 396.11,746.58 397.35,745.87 398.6,745.14 399.84,744.4 401.08,743.64 402.33,742.88 403.57,742.1 404.81,741.31 406.06,740.51 407.3,739.71 408.55,738.89 409.79,738.07 411.03,737.24 412.28,736.41 413.52,735.57 414.76,734.74 416.01,733.9 417.25,733.06 418.5,732.22 419.74,731.38 420.98,730.55 422.23,729.73 423.47,728.91 424.72,728.1 425.96,727.3 427.2,726.51 428.45,725.73 429.69,724.97 430.93,724.22 432.18,723.5 433.42,722.78 434.67,722.09 435.91,721.42 437.15,720.78 438.4,720.16 439.64,719.56 440.88,718.99 442.13,718.45 443.37,717.93 444.62,717.45 445.86,717 447.1,716.58 448.35,716.19 449.59,715.84 450.84,715.52 452.08,715.24 453.32,715 454.57,714.79 455.81,714.61 457.05,714.48 458.3,714.38 459.54,714.33 460.79,714.31 462.03,714.32 463.27,714.38 464.52,714.48 465.76,714.61 467,714.78 468.25,714.99 469.49,715.23 470.74,715.51 471.98,715.83 473.22,716.18 474.47,716.57 475.71,716.98 476.96,717.43 478.2,717.92 479.44,718.43 480.69,718.97 481.93,719.54 483.17,720.14 484.42,720.76 485.66,721.4 486.91,722.07 488.15,722.76 489.39,723.47 490.64,724.2 491.88,724.94 493.13,725.71 494.37,726.48 495.61,727.27 496.86,728.07 498.1,728.88 499.34,729.7 500.59,730.52 501.83,731.35 503.08,732.19 504.32,733.03 505.56,733.87 506.81,734.71 508.05,735.54 509.29,736.38 510.54,737.21 511.78,738.04 513.03,738.86 514.27,739.68 515.51,740.49 516.76,741.28 518,742.07 519.25,742.85 520.49,743.62 521.73,744.37 522.98,745.11 524.22,745.84 525.46,746.56 526.71,747.26 527.95,747.94 529.2,748.61 530.44,749.26 531.68,749.9 532.93,750.52 534.17,751.13 535.41,751.71 536.66,752.28 537.9,752.84 539.15,753.37 540.39,753.89 541.63,754.39 542.88,754.88 544.12,755.35 545.37,755.8 546.61,756.23 547.85,756.65 549.1,757.06 550.34,757.44 551.58,757.81 552.83,758.17 554.07,758.51 555.32,758.83 556.56,759.15 557.8,759.44 559.05,759.73 560.29,760 561.53,760.25 562.78,760.5 564.02,760.73 565.27,760.95 566.51,761.16" fill="none" stroke="#ff8888" stroke-opacity="0.7" stroke-width="2.62" stroke-linejoin="round"/>
<path d="M430.27 549.5V764.3M490.77 549.5V764.3" stroke="#000" stroke-width="1.28" fill="none"/>
<path d="M460.81 549.5V764.3" stroke="#008000" stroke-width="1.31" stroke-dasharray="3.96 3.96" stroke-dashoffset="-0.3" fill="none"/>
</g>
<g font-size="7.22" fill="#444"><text x="367.5" y="778.4" text-anchor="middle">50</text><text x="395.93" y="778.4" text-anchor="middle">100</text><text x="424.36" y="778.4" text-anchor="middle">150</text><text x="452.79" y="778.4" text-anchor="middle">200</text><text x="481.22" y="778.4" text-anchor="middle">250</text><text x="509.65" y="778.4" text-anchor="middle">300</text><text x="538.08" y="778.4" text-anchor="middle">350</text><text x="566.51" y="778.4" text-anchor="middle">400</text><text x="349.8" y="766.9" text-anchor="end">0</text><text x="349.8" y="717.4" text-anchor="end">0.005</text><text x="349.8" y="667.9" text-anchor="end">0.01</text><text x="349.8" y="618.4" text-anchor="end">0.015</text><text x="349.8" y="568.9" text-anchor="end">0.02</text></g>
<text x="467.1" y="791.9" text-anchor="middle" font-size="8.53" font-style="italic" fill="#444">x</text>
<text transform="translate(327 657.4) rotate(-90)" text-anchor="middle" font-size="8.53" font-style="italic" fill="#444">Pr(x)</text>
<text x="372" y="544.9" font-size="8.53" font-weight="bold" fill="#444">Glucose Level After Quantile Approach</text>
</svg>
</body></html>
